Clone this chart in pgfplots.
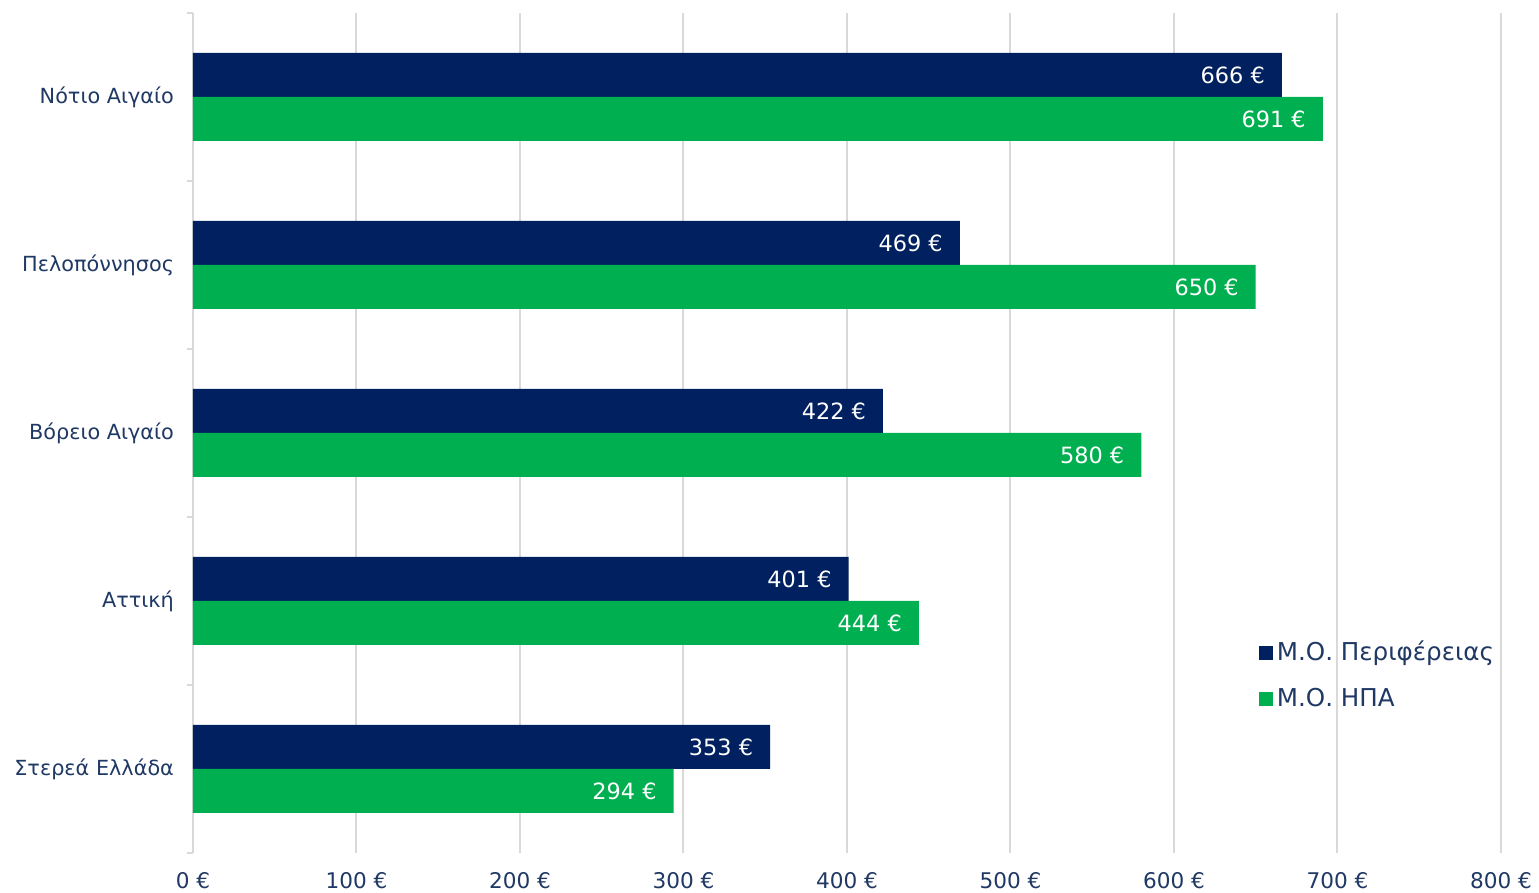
\documentclass[border=0pt]{standalone}
\usepackage{pgfplots}
\pgfplotsset{compat=1.18}
\usepackage{fontspec}
\setmainfont{DejaVu Sans}
\definecolor{navy}{HTML}{002060}
\definecolor{grn}{HTML}{00B050}
\definecolor{txt}{HTML}{1F3864}
\definecolor{gridc}{HTML}{D9D9D9}
\begin{document}
\begin{tikzpicture}
\begin{axis}[
  at={(0,0)}, anchor=south west,
  scale only axis, width=654pt, height=420pt,
  xbar, bar width=22pt,
  xmin=0, xmax=800, ymin=-0.5, ymax=4.5,
  xtick={0,100,...,800},
  xticklabels={0 €,100 €,200 €,300 €,400 €,500 €,600 €,700 €,800 €},
  ytick={0,1,2,3,4},
  yticklabels={Στερεά Ελλάδα,Αττική,Βόρειο Αιγαίο,Πελοπόννησος,Νότιο Αιγαίο},
  minor ytick={-0.5,0.5,1.5,2.5,3.5,4.5},
  axis lines*=left,
  x axis line style={draw=none},
  y axis line style={draw=gridc, line width=1pt},
  major tick length=0pt,
  minor tick length=3pt,
  tick align=outside,
  minor tick style={draw=gridc, line width=1pt},
  xmajorgrids, grid style={draw=gridc, line width=1pt},
  tick label style={text=txt},
  yticklabel style={xshift=-6pt, font=\fontsize{10.4}{12}\selectfont},
  xticklabel style={yshift=-6pt, font=\fontsize{10.8}{12}\selectfont},
  /pgf/number format/assume math mode=true,
  nodes near coords={\pgfmathprintnumber{\pgfplotspointmeta}~€},
  nodes near coords style={anchor=east, xshift=-5pt, text=white, font=\fontsize{11.2}{13}\selectfont},
  legend style={at={(rel axis cs:0.81,0.262)}, anchor=north west, draw=none, fill=none,
    font=\fontsize{12.3}{14}\selectfont, text=txt, row sep=8pt},
  legend cell align=left,
  legend image code/.code={\fill[#1] (0pt,-3.5pt) rectangle (7pt,3.5pt);},
]
\addplot[fill=navy, draw=none, bar shift=11pt] coordinates {(353,0) (401,1) (422,2) (469,3) (666,4)};
\addplot[fill=grn, draw=none, bar shift=-11pt] coordinates {(294,0) (444,1) (580,2) (650,3) (691,4)};
\legend{Μ.Ο. Περιφέρειας, Μ.Ο. ΗΠΑ}
\end{axis}
\pgfresetboundingbox
\path (-96.5pt,-20pt) rectangle (673pt,426.5pt);
\end{tikzpicture}
\end{document}
